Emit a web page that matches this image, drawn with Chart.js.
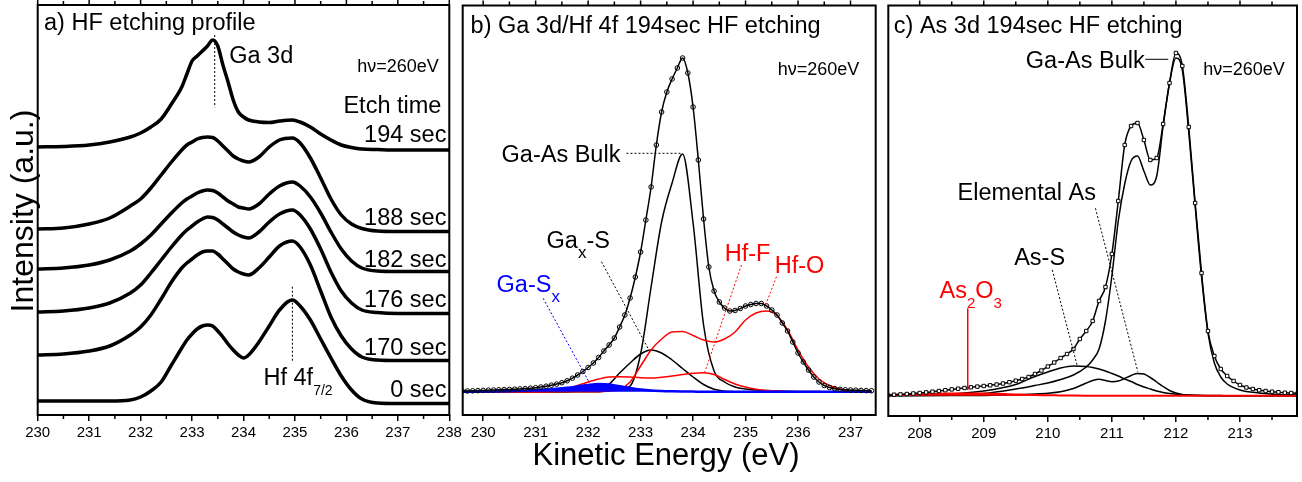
<!DOCTYPE html>
<html><head><meta charset="utf-8">
<script src="https://cdn.jsdelivr.net/npm/chart.js@4.4.1/dist/chart.umd.min.js"></script>
<style>
html,body{margin:0;padding:0;background:#fff;}
#wrap{position:relative;width:1302px;height:482px;overflow:hidden;background:#fff;}
canvas{position:absolute;top:0;}
</style></head><body>
<div id="wrap">
<canvas id="ca" width="464" height="482" style="left:0px"></canvas>
<canvas id="cb" width="436" height="482" style="left:452px"></canvas>
<canvas id="cc" width="422" height="482" style="left:880px"></canvas>
</div>
<script>
// ---------- Panel a: HF etching profile (stacked spectra, offsets included) ----------
const aEnergy = [230, 230.5, 231, 231.4, 231.8, 232.0, 232.2, 232.4, 232.6, 232.8, 232.9, 233.0, 233.1, 233.2, 233.3, 233.4, 233.5, 233.6, 233.7, 233.8, 233.9, 234.0, 234.1, 234.3, 234.5, 234.7, 234.95, 235.1, 235.3, 235.5, 235.7, 235.9, 236.1, 236.3, 236.6, 237, 237.5, 238];
const a0sec   = [14,14,14,14,15,18,24,33,50,67,75,81,86,89,90,89,84,78,71,65,60,57,60,73,89,105,115,109,95,76,57,39,25,16,12,11.5,11.5,11.5];
const a170sec = [60,61,64,69,80,88,100,116,133,147,152,156,160,163,164,164,161,156,151,146,143,141,140,147,158,169,174,168,150,124,98,79,66,58,55,54.5,54.5,54.5];
const a176sec = [103,104,107,112,122,130,142,155,168,180,185,189,193,196,198,197.5,195,191,187,183,180,178,177,183,193,201,205,200,186,166,143,124,112,105,102.5,101.5,101.5,101.5];
const a182sec = [146,147,150,155,164,171,180,191,202,212,216,219,222,224,225,224.5,222,218,214,211,208,207,206,211,221,229,233,229,218,202,183,166,154,147,144,143.5,143.5,143.5];
const a188sec = [186,187,191,197,209,216,227,240,253,265,270,273,276,277.5,278,277.5,274,269,264,259,256,254,253,258,268,275,277,272,257,237,216,200,191,186.5,184,183.5,183.5,183.5];
const a194sec = [268,268.5,270,273,278,282,288,296,311,328,341,354,359,364,369,375,369,350,333,315,303,298,295,293,292.5,294,295,293,288,281,275,270,267.5,266,265.5,265,265,265];
const aTicks = [230,231,232,233,234,235,236,237,238];
const aMinor = [230.5,231.5,232.5,233.5,234.5,235.5,236.5,237.5];

// ---------- Panel b: Ga 3d / Hf 4f fit ----------
const bEnergy = [229.6,229.7,229.8,229.9,230.0,230.1,230.2,230.3,230.4,230.5,
230.6,230.7,230.8,230.9,231.0,231.1,231.2,231.3,231.4,231.5,
231.6,231.7,231.8,231.9,232.0,232.1,232.2,232.3,232.4,232.5,
232.6,232.7,232.8,232.9,233.0,233.1,233.2,233.3,233.4,233.5,
233.6,233.7,233.8,233.9,234.0,234.1,234.2,234.3,234.4,234.5,
234.6,234.7,234.8,234.9,235.0,235.1,235.2,235.3,235.4,235.5,
235.6,235.7,235.8,235.9,236.0,236.1,236.2,236.3,236.4,236.5,
236.6,236.7,236.8,236.9,237.0,237.1,237.2,237.3,237.4];
const bMeasured = [24,24,24.2,24.4,24.6,24.8,25,25.2,25.4,25.6,
25.8,26.1,26.4,26.8,27.3,28,28.8,29.8,30.9,32.3,
34.2,36.8,40,43.5,47.5,52,57.5,64,70,77,
88,100,117,138,163,195,228,270,303,323,
336,347,357,342,308,255,196,148,124,113,
107,104,104.5,106.5,109,110.5,111.5,111.5,109,105,
100,92,84,73,62,53,45,38,33,29.5,
27.5,26.3,25.7,25.2,25,24.8,24.6,24.4,24.3];
const bCompEnergy = [229.6,229.8,230.0,230.2,230.4,230.6,230.8,231.0,231.2,231.4,
231.6,231.8,232.0,232.2,232.4,232.6,232.8,233.0,233.2,233.4,
233.6,233.8,234.0,234.2,234.4,234.6,234.8,235.0,235.2,235.4,
235.6,235.8,236.0,236.2,236.4,236.6,236.8,237.0,237.2,237.4];
const bGaAsBulk = [23.3,23.3,23.3,23.3,23.3,23.3,23.3,23.3,23.3,23.3,
23.3,23.3,23.3,23.3,24.3,25.5,29,61,128,193,
232,261,192,90,44,33,28,26,25,24.5,
24.1,23.8,23.6,23.5,23.4,23.3,23.3,23.3,23.3,23.3];
const bGaxS = [23.3,23.3,23.3,23.3,23.3,23.3,23.3,23.3,23.3,23.3,
23.3,23.8,24.5,26,31,42,52,61,65,62,
55,46.5,38,30.5,25.8,23.8,23.3,23.3,23.3,23.3,
23.3,23.3,23.3,23.3,23.3,23.3,23.3,23.3,23.3,23.3];
const bHfF = [23.3,23.3,23.3,23.3,23.3,23.3,23.3,23.3,23.3,24,
26,29.5,33,36,38,38.3,38,37.3,37,37.8,
39,40.5,41.8,42.3,40.5,35.5,31,28,25.8,24.5,
23.8,23.3,23.3,23.3,23.3,23.3,23.3,23.3,23.3,23.3];
const bHfO = [23.3,23.3,23.3,23.3,23.3,23.3,23.3,23.3,23.3,23.3,
23.3,23.3,23.3,23.3,24,25.5,33,49,65,76,
83,83.5,79.5,75,73,76,83,95,102,104,
99.5,85,65,48,36,29.5,26,24.3,23.8,23.5];
const bGaSx = [23.3,23.3,23.4,23.5,23.7,24,24.4,24.9,25.5,26.3,
27.3,28.6,30,31,30.5,28.8,27,25.5,24.5,24,
23.7,23.5,23.4,23.3,23.3,23.3,23.3,23.3,23.3,23.3,
23.3,23.3,23.3,23.3,23.3,23.3,23.3,23.3,23.3,23.3];
const bBackground = 23.3;
const bTicks = [230,231,232,233,234,235,236,237];
const bMinor = [230.5,231.5,232.5,233.5,234.5,235.5,236.5];

// ---------- Panel c: As 3d fit ----------
const cEnergy = [207.5,207.6,207.7,207.8,207.9,208.0,208.1,208.2,208.3,208.4,
208.5,208.6,208.7,208.8,208.9,209.0,209.1,209.2,209.3,209.4,
209.5,209.6,209.7,209.8,209.9,210.0,210.1,210.2,210.3,210.4,
210.5,210.6,210.7,210.8,210.9,211.0,211.1,211.2,211.3,211.4,
211.5,211.6,211.7,211.8,211.9,212.0,212.1,212.2,212.3,212.4,
212.5,212.6,212.7,212.8,212.9,213.0,213.1,213.2,213.3,213.4,
213.5,213.6,213.7,213.8,213.9];
const cMeasured = [21,21.3,21.6,22,22.5,23,23.6,24.3,25,25.8,
26.6,27.3,28,28.7,29.4,30,30.7,31.5,32.5,33.8,
35.3,37,39,42,45.5,49.5,53.5,58,62,67,
77,85,95,115,129,162,215,271,290,293,
276,256,258,292,333,363,350,289,213,143,
85,60,47,40,35,31,28.5,27,25.8,25,
24.3,23.8,23.3,23,22.7];
const cCompEnergy = [207.5,208,208.5,209,209.5,209.8,210,210.2,210.4,210.6,
210.7,210.8,210.9,211.0,211.1,211.2,211.3,211.4,211.5,211.6,
211.7,211.8,211.9,212.0,212.1,212.2,212.3,212.4,212.5,212.6,
212.7,212.8,213.0,213.3,213.6,213.9];
const cGaAsBulk = [20.5,20.7,21.2,22.5,27,30.5,33,36.5,41,49,
56,67,95,140,195,232,255,260,245,231,
240,290,333,358,346,284,210,139,83,53,
39,32,26,23,21.5,21];
const cAsS = [20.5,21,22,25,31.5,39.5,44,48,50,49.5,
48.5,47,45,42.5,40,37,34.5,31.5,29,27,
25,23.5,22.5,21.8,21.3,21,20.8,20.6,20.5,20.4,
20.4,20.3,20.3,20.3,20.3,20.3];
const cElementalAs = [20.3,20.3,20.4,20.6,21.2,22,22.8,24.2,27.5,33,
35.5,36.7,35.5,34.3,35,37.5,40.5,42.5,42,38.5,
34,29.5,25.5,23,21.5,21,20.6,20.4,20.3,20.3,
20.3,20.3,20.3,20.3,20.3,20.3];
const cAs2O3 = [21,21.8,22.5,22.5,21.5,21,20.8,20.6,20.4,20.3,
20.3,20.3,20.3,20.3,20.3,20.3,20.3,20.3,20.3,20.3,
20.3,20.3,20.3,20.3,20.3,20.3,20.3,20.3,20.3,20.3,
20.3,20.3,20.3,20.3,20.3,20.3];
const cBackground = 20.3;
const cTicks = [208,209,210,211,212,213];
const cMinor = [208.5,209.5,210.5,211.5,212.5,213.5];

// ---------- helpers ----------
const FONT = '"Liberation Sans", Arial, Helvetica, sans-serif';
Chart.defaults.font.family = FONT;
Chart.defaults.color = '#000';
const RED = '#ff0000', BLUE = '#0000ff';

function pts(xs, ys){ return xs.map((x,i)=>({x:x, y:ys[i]})); }
function lineDs(xs, ys, color, width, extra){
  return Object.assign({data: pts(xs, ys), borderColor: color, borderWidth: width,
    pointRadius: 0, fill: false, cubicInterpolationMode: 'monotone'}, extra || {});
}
function xScale(min, max, ticks, axisH){
  return {
    type: 'linear', min: min, max: max,
    afterBuildTicks: s => { s.ticks = ticks.map(v => ({value: v})); },
    afterFit: s => { s.height = axisH; s.paddingLeft = 0; s.paddingRight = 0; },
    ticks: {color: '#000', font: {size: 15}, padding: 3, maxRotation: 0, autoSkip: false, callback: v => String(v)},
    grid: {display: true, drawOnChartArea: false, drawTicks: true, tickLength: 6, color: '#000', lineWidth: 1.5},
    border: {display: false}
  };
}
function drawRich(ctx, t){
  const size = t.size || 23.5, sub = t.sub || 15;
  ctx.textBaseline = 'alphabetic'; ctx.textAlign = 'left';
  ctx.fillStyle = t.color || '#000';
  const widths = t.parts.map(p => { ctx.font = (p[1] ? sub : size) + 'px ' + FONT; return ctx.measureText(p[0]).width; });
  const total = widths.reduce((a,b)=>a+b, 0);
  let cx = t.X - (t.align === 'right' ? total : (t.align === 'center' ? total/2 : 0));
  t.parts.forEach((p,i) => {
    ctx.font = (p[1] ? sub : size) + 'px ' + FONT;
    ctx.fillText(p[0], cx, t.Y + (p[1] ? (t.subOff || 10) : 0));
    cx += widths[i];
  });
}
function makeDeco(cfg){
  return {
    id: 'deco',
    afterDatasetsDraw(chart){
      const ctx = chart.ctx, a = chart.chartArea, xs = chart.scales.x, ys = chart.scales.y;
      const X = v => xs.getPixelForValue(v), Y = v => ys.getPixelForValue(v);
      ctx.save();
      ctx.strokeStyle = '#000'; ctx.lineWidth = 1.5;
      ctx.beginPath();
      cfg.minor.forEach(m => { const p = X(m); ctx.moveTo(p, a.bottom); ctx.lineTo(p, a.bottom + 4); ctx.moveTo(p, a.top); ctx.lineTo(p, a.top - 4); });
      cfg.major.forEach(m => { const p = X(m); ctx.moveTo(p, a.top); ctx.lineTo(p, a.top - 5); });
      ctx.stroke();
      ctx.lineWidth = 2;
      ctx.strokeRect(a.left, a.top, a.right - a.left, a.bottom - a.top);
      (cfg.lines || []).forEach(l => {
        ctx.beginPath();
        ctx.strokeStyle = l.color || '#000';
        ctx.lineWidth = l.w || 1;
        ctx.setLineDash(l.dash ? [2, 2] : []);
        ctx.moveTo(X(l.x1), Y(l.y1)); ctx.lineTo(X(l.x2), Y(l.y2));
        ctx.stroke();
      });
      ctx.setLineDash([]);
      (cfg.texts || []).forEach(t => drawRich(ctx, Object.assign({}, t, {X: X(t.x), Y: Y(t.y)})));
      if (cfg.ytitle){
        ctx.save();
        ctx.translate(cfg.ytitle.px, cfg.ytitle.py);
        ctx.rotate(-Math.PI/2);
        ctx.font = cfg.ytitle.size + 'px ' + FONT;
        ctx.fillStyle = '#000'; ctx.textAlign = 'center'; ctx.textBaseline = 'alphabetic';
        ctx.fillText(cfg.ytitle.text, 0, 0);
        ctx.restore();
      }
      if (cfg.xtitle){
        ctx.font = cfg.xtitle.size + 'px ' + FONT;
        ctx.fillStyle = '#000'; ctx.textAlign = 'center'; ctx.textBaseline = 'alphabetic';
        ctx.fillText(cfg.xtitle.text, cfg.xtitle.px, cfg.xtitle.py);
      }
      ctx.restore();
    }
  };
}
const baseOpts = {responsive: false, animation: false, devicePixelRatio: 1,
  plugins: {legend: {display: false}, tooltip: {enabled: false}}};

// ---------- Chart a ----------
const aW = 3.5;
new Chart(document.getElementById('ca'), {
  type: 'line',
  data: {datasets: [
    lineDs(aEnergy, a194sec, '#000', aW), lineDs(aEnergy, a188sec, '#000', aW),
    lineDs(aEnergy, a182sec, '#000', aW), lineDs(aEnergy, a176sec, '#000', aW),
    lineDs(aEnergy, a170sec, '#000', aW), lineDs(aEnergy, a0sec, '#000', aW)
  ]},
  options: Object.assign({}, baseOpts, {
    layout: {padding: {left: 37.7, right: 14.7, top: 5, bottom: 0}},
    scales: {x: xScale(230, 238, aTicks, 67), y: {display: false, min: 0, max: 410}}
  }),
  plugins: [makeDeco({
    major: aTicks, minor: aMinor,
    lines: [
      {x1: 233.44, y1: 380, x2: 233.44, y2: 307.7, dash: true},
      {x1: 234.95, y1: 128.3, x2: 234.95, y2: 53.3, dash: true}
    ],
    texts: [
      {x: 230.123, y: 385.3, parts: [['a) HF etching profile']]},
      {x: 233.722, y: 352.3, parts: [['Ga 3d']]},
      {x: 236.212, y: 343.3, parts: [['h\u03bd=260eV']], size: 18},
      {x: 237.846, y: 301.7, parts: [['Etch time']], align: 'right'},
      {x: 237.944, y: 273.3, parts: [['194 sec']], align: 'right'},
      {x: 237.944, y: 190, parts: [['188 sec']], align: 'right'},
      {x: 237.944, y: 148.3, parts: [['182 sec']], align: 'right'},
      {x: 237.944, y: 107.7, parts: [['176 sec']], align: 'right'},
      {x: 237.944, y: 60, parts: [['170 sec']], align: 'right'},
      {x: 237.944, y: 18.3, parts: [['0 sec']], align: 'right'},
      {x: 234.389, y: 30, parts: [['Hf 4f'], ['7/2', 1]], sub: 14}
    ],
    ytitle: {text: 'Intensity (a.u.)', px: 33, py: 211, size: 32}
  })]
});

// ---------- Chart b ----------
new Chart(document.getElementById('cb'), {
  type: 'line',
  data: {datasets: [
    lineDs(bEnergy, bMeasured, '#000', 1.5, {pointRadius: 2.3, pointStyle: 'circle', pointBorderWidth: 1,
      pointBorderColor: '#000', pointBackgroundColor: 'rgba(255,255,255,0)'}),
    lineDs(bCompEnergy, bGaSx, BLUE, 2.5, {fill: {value: bBackground}, backgroundColor: BLUE}),
    lineDs(bCompEnergy, bHfO, RED, 1.5),
    lineDs(bCompEnergy, bHfF, RED, 1.5),
    lineDs(bCompEnergy, bGaAsBulk, '#000', 1.5),
    lineDs(bCompEnergy, bGaxS, '#000', 1.5)
  ]},
  options: Object.assign({}, baseOpts, {
    layout: {padding: {left: 10.7, right: 12.3, top: 5.5, bottom: 0}},
    scales: {x: xScale(229.61, 237.48, bTicks, 67), y: {display: false, min: 0, max: 409.5}}
  }),
  plugins: [makeDeco({
    major: bTicks, minor: bMinor,
    lines: [
      {x1: 232.731, y1: 261.7, x2: 233.779, y2: 261.7, dash: true},
      {x1: 232.255, y1: 153.3, x2: 233.14, y2: 66.7, dash: true},
      {x1: 231.143, y1: 116.7, x2: 232.03, y2: 31.7, dash: true, color: BLUE},
      {x1: 234.922, y1: 150, x2: 234.22, y2: 42.3, dash: true, color: RED},
      {x1: 235.589, y1: 138.3, x2: 235.37, y2: 108.3, dash: true, color: RED}
    ],
    texts: [
      {x: 229.76, y: 382.5, parts: [['b) Ga 3d/Hf 4f 194sec HF etching']]},
      {x: 235.613, y: 340, parts: [['h\u03bd=260eV']], size: 18},
      {x: 230.35, y: 253.3, parts: [['Ga-As Bulk']]},
      {x: 231.208, y: 166.7, parts: [['Ga'], ['x', 1], ['-S']], sub: 17},
      {x: 230.255, y: 123.3, parts: [['Ga-S'], ['x', 1]], sub: 17, color: BLUE},
      {x: 234.604, y: 154.3, parts: [['Hf-F']], color: RED},
      {x: 235.556, y: 141.7, parts: [['Hf-O']], color: RED}
    ],
    xtitle: {text: 'Kinetic Energy (eV)', px: 214, py: 465, size: 31}
  })]
});

// ---------- Chart c ----------
new Chart(document.getElementById('cc'), {
  type: 'line',
  data: {datasets: [
    lineDs(cEnergy, cMeasured, '#000', 1.5, {pointRadius: 2.4, pointStyle: 'rect', pointBorderWidth: 1,
      pointBorderColor: '#000', pointBackgroundColor: '#fff'}),
    lineDs(cCompEnergy, cAs2O3, RED, 2, {fill: {value: cBackground}, backgroundColor: RED}),
    lineDs(cCompEnergy, cGaAsBulk, '#000', 1.5),
    lineDs(cCompEnergy, cAsS, '#000', 1.5),
    lineDs(cCompEnergy, cElementalAs, '#000', 1.5)
  ]},
  options: Object.assign({}, baseOpts, {
    layout: {padding: {left: 8.3, right: 2.7, top: 5.5, bottom: 0}},
    scales: {x: xScale(207.51, 213.89, cTicks, 66), y: {display: false, min: 0, max: 410.5}}
  }),
  plugins: [makeDeco({
    major: cTicks, minor: cMinor,
    lines: [
      {x1: 211.52, y1: 356.7, x2: 211.88, y2: 356.7},
      {x1: 210.744, y1: 207.7, x2: 211.405, y2: 44.3, dash: true},
      {x1: 210.07, y1: 146, x2: 210.46, y2: 50, dash: true},
      {x1: 208.75, y1: 107.7, x2: 208.75, y2: 26, color: RED, w: 1.5}
    ],
    texts: [
      {x: 207.596, y: 383.5, parts: [['c) As 3d 194sec HF etching']]},
      {x: 209.657, y: 347.7, parts: [['Ga-As Bulk']]},
      {x: 212.425, y: 341, parts: [['h\u03bd=260eV']], size: 18},
      {x: 208.59, y: 216, parts: [['Elemental As']]},
      {x: 209.475, y: 151, parts: [['As-S']]},
      {x: 208.31, y: 117.7, parts: [['As'], ['2', 1], ['O'], ['3', 1]], sub: 15, color: RED}
    ]
  })]
});
</script>
</body></html>
